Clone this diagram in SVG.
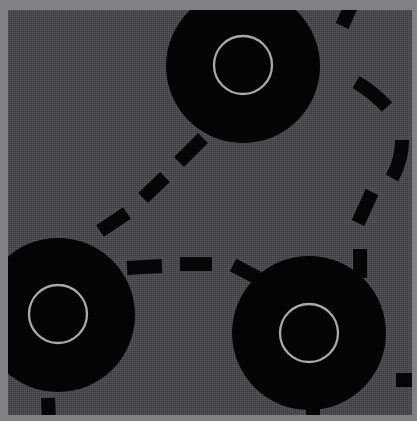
<svg xmlns="http://www.w3.org/2000/svg" width="417" height="421" viewBox="0 0 417 421">
  <defs>
    <pattern id="dither" x="0" y="0" width="2" height="2" patternUnits="userSpaceOnUse">
      <rect width="2" height="2" fill="#4b484c"/>
      <rect width="1" height="1" fill="#58555b"/>
      <rect x="1" y="1" width="1" height="1" fill="#3e3b3f"/>
    </pattern>
  </defs>
  <style>
    .disc { fill: #050305; }
    .ring { fill: none; stroke: #aaa8aa; stroke-width: 2.3; }
    .dash { fill: none; stroke: #070507; stroke-width: 14; stroke-linecap: butt; stroke-linejoin: round; }
  </style>
  <rect x="0" y="0" width="417" height="421" fill="url(#dither)"/>
  <g id="connectors">
    <path class="dash" d="M203 138 L179 162 M165 177 L143 198 M127 213 L100 231"/>
    <path class="dash" d="M127 268 L162 266 M180 264 L212 264 M233 265 L258 278"/>
    <path class="dash" d="M352 4 L342 26"/>
    <path class="dash" d="M356 82 Q373 92 387 107 M402 140 Q402 160 392 178 M372 192 L358 223 M360 249 L360 278"/>
    <path class="dash" d="M48 398 L49 421"/>
    <path class="dash" d="M313 400 L313 421"/>
    <path class="dash" d="M396 380 L417 380"/>
  </g>
  <g id="node-top">
    <circle class="disc" cx="243" cy="66" r="77"/>
    <circle class="ring" cx="243" cy="65" r="29"/>
  </g>
  <g id="node-left">
    <circle class="disc" cx="58" cy="315" r="77"/>
    <circle class="ring" cx="58" cy="314" r="29"/>
  </g>
  <g id="node-right">
    <circle class="disc" cx="309" cy="333" r="77"/>
    <circle class="ring" cx="309" cy="333" r="29"/>
  </g>
  <path fill="#828084" fill-rule="evenodd" d="M0 0 H417 V421 H0 Z M8 10 V415 H412 V10 Z"/>
</svg>
